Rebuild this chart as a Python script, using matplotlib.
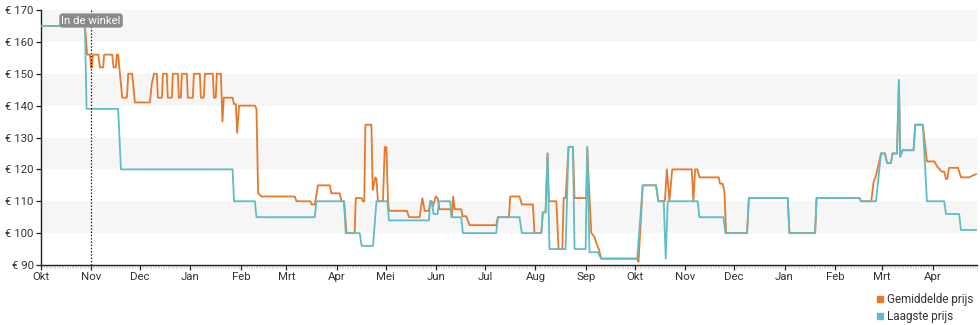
import datetime as dt
import matplotlib
matplotlib.use("Agg")
import matplotlib.pyplot as plt
import matplotlib.dates as mdates
from matplotlib.lines import Line2D
from matplotlib.ticker import FuncFormatter, MultipleLocator

plt.rcParams["font.family"] = ["Roboto", "DejaVu Sans"]

start = dt.date(2022, 10, 1)
end_day = 575
shop_day = 31  # "In de winkel"

month_names = ["Jan", "Feb", "Mrt", "Apr", "Mei", "Jun",
               "Jul", "Aug", "Sep", "Okt", "Nov", "Dec"]

# Laagste prijs: days since start, price
low_days = [0, 27.2, 28.2, 47.6, 49.3, 117.9, 118.8, 131.6, 132.6, 168.4,
            169.4, 186.4, 187.4, 196.0, 197.2, 204.2, 206.3, 213.0, 214.0, 238.5,
            239.4, 240.2, 241.4, 243.9, 244.7, 251.7, 252.3, 258.4, 259.4, 279.9,
            280.9, 294.2, 295.6, 307.6, 308.5, 310.2, 311.4, 312.6, 322.5, 324.3,
            327.0, 328.0, 334.8, 335.8, 337.2, 342.3, 344.4, 366.5, 369.9, 378.1,
            379.5, 382.8, 384.0, 385.3, 403.7, 404.7, 419.5, 420.7, 434.0, 435.1,
            459.0, 460.0, 475.8, 476.7, 503.0, 504.0, 513.2, 516.3, 518.7, 520.0,
            522.4, 523.4, 526.1, 527.3, 528.1, 529.5, 536.3, 537.3, 542.0, 544.5,
            555.1, 556.2, 564.3, 565.4, 574.6]
low_vals = [165, 165, 139, 139, 120, 120, 110, 110, 105, 105,
            110, 110, 100, 100, 96, 96, 110, 110, 104, 104,
            110, 110, 106, 106, 110, 110, 105, 105, 100, 100,
            105, 105, 100, 100, 106.5, 106.5, 125, 95, 95, 127,
            127, 95, 95, 127, 94, 94, 92, 92, 115, 115,
            110, 110, 92, 110, 110, 105, 105, 100, 100, 111,
            111, 100, 100, 111, 111, 110, 110, 125, 125, 122,
            122, 125, 125, 148, 124, 126, 126, 134, 134, 110,
            110, 106, 106, 101, 101]

# Gemiddelde prijs: days since start, price
avg_days = [0, 27.2, 28.6, 30.3, 30.9, 31.5, 32.1, 35.4, 36.4, 38.4,
            39.0, 44.0, 44.8, 46.2, 46.8, 47.6, 50.1, 53.0, 53.8, 56.2,
            57.9, 67.1, 68.3, 69.6, 71.4, 72.0, 74.5, 75.1, 77.5, 78.1,
            80.6, 81.2, 84.3, 84.9, 86.1, 86.7, 89.8, 90.4, 93.5, 94.1,
            97.8, 98.4, 100.2, 100.9, 105.8, 106.4, 107.6, 108.2, 110.7, 111.7,
            112.5, 117.9, 118.7, 119.9, 120.7, 121.9, 131.6, 132.6, 133.6, 135.7,
            156.1, 157.2, 165.7, 166.5, 168.4, 170.4, 177.6, 178.6, 183.7, 184.8,
            186.4, 187.9, 192.9, 193.6, 197.1, 197.9, 198.8, 199.5, 203.2, 204.0,
            205.6, 206.3, 207.2, 210.3, 211.4, 212.4, 213.4, 214.0, 225.0, 226.3,
            232.8, 234.5, 235.9, 238.5, 239.4, 240.2, 241.1, 242.7, 243.9, 245.1,
            251.7, 252.7, 253.4, 254.3, 258.4, 259.2, 261.5, 263.5, 279.9, 280.9,
            287.7, 288.5, 294.2, 295.6, 302.4, 303.4, 307.6, 308.5, 310.2, 311.4,
            312.3, 316.8, 318.2, 320.5, 321.3, 322.5, 324.3, 327.0, 328.0, 335.2,
            335.8, 337.2, 338.3, 340.1, 341.3, 342.9, 344.4, 366.5, 367.3, 369.9,
            378.1, 379.5, 383.5, 384.7, 386.3, 388.0, 400.0, 401.0, 402.1, 403.5,
            404.7, 416.6, 417.4, 419.0, 420.1, 421.1, 434.0, 435.1, 459.0, 460.0,
            475.8, 476.7, 503.0, 504.0, 510.3, 511.7, 513.2, 516.3, 518.7, 520.0,
            522.4, 523.4, 526.1, 527.3, 528.1, 529.5, 536.3, 537.3, 542.0, 544.5,
            549.0, 550.7, 553.5, 555.1, 556.2, 557.0, 558.1, 563.6, 565.4, 570.5,
            572.3, 574.6]
avg_vals = [165, 165, 156, 156, 152, 152, 156, 156, 152, 152,
            156, 156, 152, 152, 156, 156, 142.5, 142.5, 150, 150,
            141, 141, 147, 150, 150, 142.5, 142.5, 150, 150, 142.5,
            142.5, 150, 150, 142.5, 142.5, 150, 150, 142.5, 142.5, 150,
            150, 142.5, 142.5, 150, 150, 142.5, 142.5, 150, 150, 135,
            142.5, 142.5, 140.5, 140.5, 131.5, 140, 140, 139, 112.5, 111.5,
            111.5, 110, 110, 109, 109, 115, 115, 112.5, 112.5, 110,
            110, 100, 100, 111, 111, 110, 110, 134, 134, 113.5,
            117.5, 117, 110, 110, 127, 127, 110, 107, 107, 105,
            105, 111, 107, 107, 110, 110, 108.5, 111.5, 111, 107.5,
            107.5, 105.5, 111.5, 107.5, 107.5, 105.3, 105.3, 102.5, 102.5, 105,
            105, 111.5, 111.5, 109, 109, 100, 100, 106.5, 106.5, 125,
            110, 110, 95, 95, 111, 111, 127, 127, 111, 111,
            127, 111, 100, 99, 97, 95, 92, 92, 91, 115,
            115, 110, 110, 120, 110, 120, 120, 110, 120, 120,
            117.5, 117.5, 115.5, 115.5, 113, 100, 100, 111, 111, 100,
            100, 111, 111, 110, 110, 116, 118, 125, 125, 122,
            122, 125, 125, 148, 124, 126, 126, 134, 134, 122.5,
            122.5, 121, 119.3, 119.3, 117, 117, 120.5, 120.5, 117.5, 117.5,
            118, 118.5]

orange = "#e8792a"
teal = "#5fbdc7"
text_col = "#333333"

t0 = mdates.date2num(start)
fig = plt.figure(figsize=(9.8, 3.25), dpi=100)
ax = fig.add_axes([0.0415, 0.1846, 0.955, 0.7846])

for lo in (100, 120, 140, 160):
    ax.axhspan(lo, lo + 10, color="#f6f6f6", lw=0, zorder=0)

ax.plot([t0 + d for d in avg_days], avg_vals, color=orange, lw=1.3, zorder=3)
ax.plot([t0 + d for d in low_days], low_vals, color=teal, lw=1.3, zorder=4)

ax.axvline(t0 + shop_day, color="#222222", lw=0.9, ls=(0, (1.2, 1.4)), zorder=5)
ax.text(t0 + shop_day, 166.7, "In de winkel", ha="center", va="center",
        color="white", fontsize=8.2, zorder=6,
        bbox=dict(boxstyle="round,pad=0.15,rounding_size=0.25",
                  fc="#8a8a8a", ec="#9a9a9a", lw=0.6))

ax.set_xlim(t0, t0 + end_day)
ax.set_ylim(90, 170)
ax.yaxis.set_major_locator(MultipleLocator(10))
ax.yaxis.set_major_formatter(FuncFormatter(lambda v, p: f"€ {v:.0f}"))
ax.xaxis.set_major_locator(mdates.MonthLocator())
ax.xaxis.set_major_formatter(
    FuncFormatter(lambda v, p: month_names[mdates.num2date(v).month - 1]))
ax.xaxis.set_minor_locator(mdates.DayLocator())

for s in ("top", "right"):
    ax.spines[s].set_visible(False)
for s in ("left", "bottom"):
    ax.spines[s].set_color("#222222")
    ax.spines[s].set_linewidth(1.0)

ax.tick_params(axis="both", which="major", length=3.5, width=0.9,
               color="#222222", labelcolor=text_col, labelsize=8.2, pad=1.5)
ax.tick_params(axis="x", which="minor", length=1.8, width=0.5, color="#c8c8c8")

handles = [Line2D([], [], ls="", marker="s", markersize=4.5, color=orange),
           Line2D([], [], ls="", marker="s", markersize=4.5, color=teal)]
fig.legend(handles, ["Gemiddelde prijs", "Laagste prijs"],
           loc="upper right", bbox_to_anchor=(0.993, 0.098), frameon=False,
           fontsize=8.4, labelcolor=text_col, handlelength=0.6,
           handletextpad=0.3, labelspacing=0.3, borderpad=0, borderaxespad=0)

fig.savefig("out.png", dpi=100)
